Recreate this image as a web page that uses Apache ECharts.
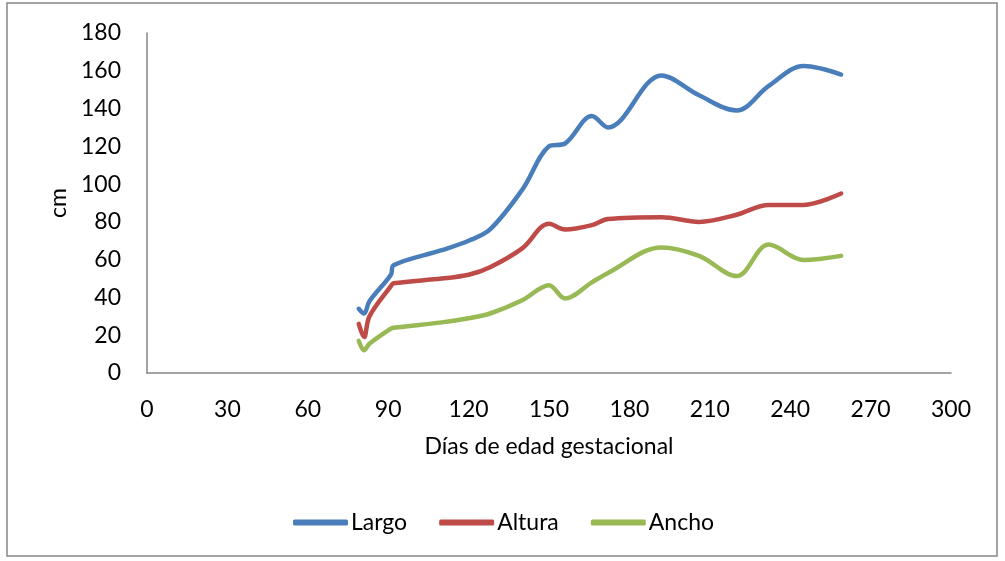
<!DOCTYPE html>
<html>
<head>
<meta charset="utf-8">
<script src="https://cdn.jsdelivr.net/npm/echarts@6/dist/echarts.min.js"></script>
<style>
  html, body { margin: 0; padding: 0; background: #fff; }
  #chart { width: 1005px; height: 561px; }
</style>
</head>
<body>
<div id="chart"></div>
<script>
// días de edad gestacional
const days = [79, 81, 83, 91, 92, 110, 120, 128, 140, 150, 156, 166, 172, 192, 206, 220, 232, 245, 259];
const largo = [34, 31.5, 38, 52, 57, 65, 70, 76, 97, 120, 121.5, 136, 130, 157.5, 147, 139, 152, 162.5, 158];
const altura = [26, 19, 30, 46, 47.5, 50, 52, 56, 66, 79, 76, 78.3, 81.5, 82.5, 80, 83.8, 89, 89, 95];
const ancho = [17, 12, 15.5, 23.5, 24, 26.8, 29, 31.5, 38.5, 46.5, 39.5, 48, 53, 66.5, 62, 51.3, 68, 59.8, 62];
const seriesNames = ["Largo", "Altura", "Ancho"];
const colors = ["#4a7ebb", "#be4b48", "#98b954"];

const font = "Lato, 'Open Sans', sans-serif";
const fs = 23;

function pairs(vals) {
  return days.map((d, i) => [d, vals[i]]);
}

const chart = echarts.init(document.getElementById("chart"), null, { renderer: "canvas" });

chart.setOption({
  animation: false,
  color: colors,
  textStyle: { fontFamily: font, color: "#000" },
  graphic: [{
    type: "rect",
    shape: { x: 7, y: 3, width: 990, height: 553 },
    style: { fill: "none", stroke: "#868686", lineWidth: 1.5 },
    silent: true
  }],
  grid: { left: 147, right: 54, top: 33, bottom: 188 },
  legend: {
    data: seriesNames,
    left: 288,
    top: 506,
    icon: "roundRect",
    itemWidth: 55,
    itemHeight: 6,
    itemGap: 32,
    textStyle: { fontFamily: font, fontSize: fs, color: "#000", padding: [0, 0, 0, -2] }
  },
  xAxis: {
    type: "value",
    min: 0,
    max: 300,
    interval: 30,
    name: "Días de edad gestacional",
    nameLocation: "middle",
    nameGap: 62,
    nameTextStyle: { fontFamily: font, fontSize: fs, color: "#000" },
    axisLine: { show: true, lineStyle: { color: "#868686", width: 1.5 } },
    axisTick: { show: false },
    splitLine: { show: false },
    axisLabel: { fontFamily: font, fontSize: fs, color: "#000", margin: 25 }
  },
  yAxis: {
    type: "value",
    min: 0,
    max: 180,
    interval: 20,
    name: "cm",
    nameLocation: "middle",
    nameGap: 74,
    nameRotate: 90,
    nameTextStyle: { fontFamily: font, fontSize: fs, color: "#000" },
    axisLine: { show: true, lineStyle: { color: "#868686", width: 1.5 } },
    axisTick: { show: false },
    splitLine: { show: false },
    axisLabel: { fontFamily: font, fontSize: fs, color: "#000", margin: 26 }
  },
  series: [
    { name: "Largo", type: "line", data: pairs(largo) },
    { name: "Altura", type: "line", data: pairs(altura) },
    { name: "Ancho", type: "line", data: pairs(ancho) }
  ].map((s, i) => Object.assign(s, {
    smooth: 0.35,
    symbol: "none",
    lineStyle: { width: 4.5, color: colors[i], cap: "round", join: "round" },
    itemStyle: { color: colors[i] }
  }))
});

window.addEventListener("resize", () => chart.resize());
</script>
</body>
</html>
